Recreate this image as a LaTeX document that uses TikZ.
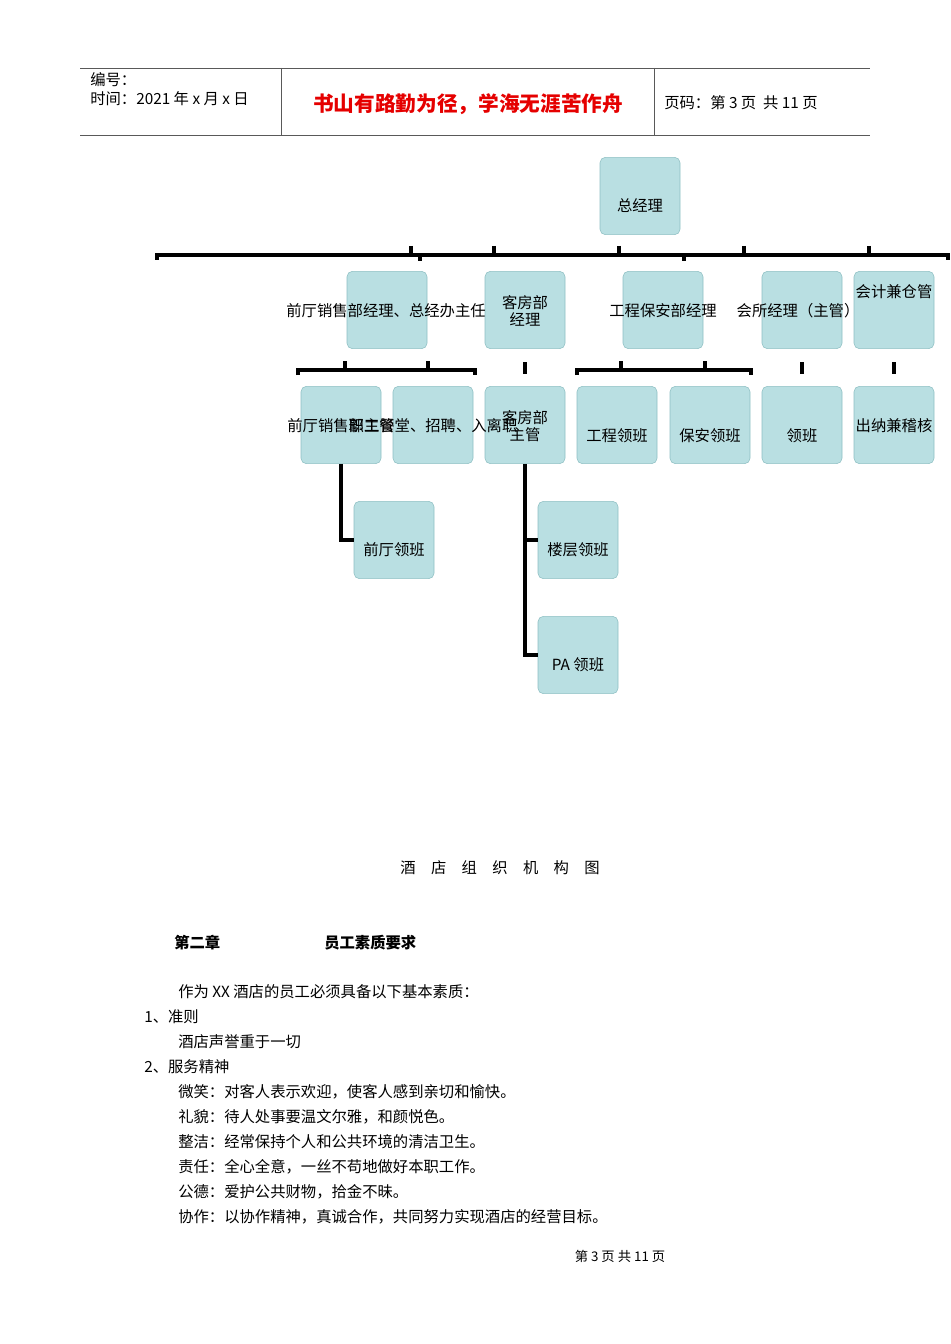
\documentclass[tikz,border=0pt]{standalone}
\usepackage{fontspec}
\setmainfont{Noto Sans CJK SC}
\definecolor{boxfill}{HTML}{B9DFE2}
\definecolor{boxline}{HTML}{8EBFC3}
\begin{document}
\begin{tikzpicture}[x=0.75pt,y=-0.75pt,
  bx/.style={draw=boxline, fill=boxfill, rounded corners=4pt, minimum width=60pt, minimum height=58pt, inner sep=0pt},
  org/.style={line width=3pt},
  t/.style={font=\fontsize{11.5}{13}\selectfont, inner sep=0pt},
  tx/.style={font=\fontsize{11.5}{13}\selectfont, anchor=west, inner sep=0pt}]
\useasboundingbox (0,0) rectangle (950,1344);
% header
\draw[gray!70!black,line width=0.6pt] (80,68) -- (870,68) (80,135) -- (870,135) (281,68) -- (281,135) (654,68) -- (654,135);
\node[tx] (h1) at (90,80) {编号：};
\node[tx] (h2) at (90,99) {时间：2021 年 x 月 x 日};
\node[t,text=red!90!black,font=\fontsize{15.5}{18}\selectfont\bfseries] (h3) at (468,104) {书山有路勤为径，学海无涯苦作舟};
\node[tx] (h4) at (664,103) {页码：第 3 页\ \ 共 11 页};
% boxes
\node[bx] (gm) at (640,196) {};
\node[t] at (640,206) {总经理};
\node[bx] (a1) at (387,310) {};
\node[bx] (a2) at (525,310) {};
\node[bx] (a3) at (663,310) {};
\node[bx] (a4) at (802,310) {};
\node[bx] (a5) at (894,310) {};
\node[bx] (b1) at (341,425) {};
\node[bx] (b2) at (433,425) {};
\node[bx] (b3) at (525,425) {};
\node[bx] (b4) at (617,425) {};
\node[bx] (b5) at (710,425) {};
\node[bx] (b6) at (802,425) {};
\node[bx] (b7) at (894,425) {};
\node[bx] (c1) at (394,540) {};
\node[bx] (c2) at (578,540) {};
\node[bx] (c3) at (578,655) {};
% labels
\node[t] at (386,311) {前厅销售部经理、总经办主任};
\node[t,align=center] at (525,311) {客房部\\经理};
\node[t] at (663,311) {工程保安部经理};
\node[t] at (798,311) {会所经理（主管）};
\node[t] at (894,292) {会计兼仓管};
\node[t] at (341,426) {前厅销售部主管};
\node[t] at (433,426) {职工餐堂、招聘、入离职};
\node[t,align=center] at (525,426) {客房部\\主管};
\node[t] at (617,436) {工程领班};
\node[t] at (710,436) {保安领班};
\node[t] at (802,436) {领班};
\node[t] at (894,426) {出纳兼稽核};
\node[t] at (394,550) {前厅领班};
\node[t] at (578,550) {楼层领班};
\node[t] at (578,665) {PA 领班};
% connectors
\draw[org] (157,260) -- (157,255) -- (948,255) -- (948,260);
\foreach \x in {411,494,619,744,869} \draw[org] (\x,246) -- (\x,255);
\foreach \x in {420,684} \draw[org] (\x,255) -- (\x,261);
\draw[org] (298,375) -- (298,370) -- (475,370) -- (475,375);
\draw[org] (345,361) -- (345,370) (428,361) -- (428,370);
\draw[org] (577,375) -- (577,370) -- (751,370) -- (751,375);
\draw[org] (621,361) -- (621,370) (705,361) -- (705,370);
\draw[org] (525,362) -- (525,374);
\draw[org] (802,362) -- (802,374);
\draw[org] (894,362) -- (894,374);
\draw[org] (b1.south) -- (341,540) -- (c1.west);
\draw[org] (b3.south) -- (525,655) -- (c3.west);
\draw[org] (525,540) -- (c2.west);
% caption and text
\node[t] (cap) at (500,868) {酒\quad 店\quad 组\quad 织\quad 机\quad 构\quad 图};
\node[tx,font=\fontsize{11.5}{13}\selectfont\bfseries] at (174,943) {第二章};
\node[tx,font=\fontsize{11.5}{13}\selectfont\bfseries] at (324,943) {员工素质要求};
\node[tx] at (178,992) {作为 XX 酒店的员工必须具备以下基本素质：};
\node[tx] at (144,1017) {1、准则};
\node[tx] at (178,1042) {酒店声誉重于一切};
\node[tx] at (144,1067) {2、服务精神};
\node[tx] at (178,1092) {微笑：对客人表示欢迎，使客人感到亲切和愉快。};
\node[tx] at (178,1117) {礼貌：待人处事要温文尔雅，和颜悦色。};
\node[tx] at (178,1142) {整洁：经常保持个人和公共环境的清洁卫生。};
\node[tx] at (178,1167) {责任：全心全意，一丝不苟地做好本职工作。};
\node[tx] at (178,1192) {公德：爱护公共财物，拾金不昧。};
\node[tx] at (178,1217) {协作：以协作精神，真诚合作，共同努力实现酒店的经营目标。};
\node[t,font=\fontsize{10}{12}\selectfont] at (620,1256) {第\ 3\ 页\ 共\ 11\ 页};
\end{tikzpicture}
\end{document}
